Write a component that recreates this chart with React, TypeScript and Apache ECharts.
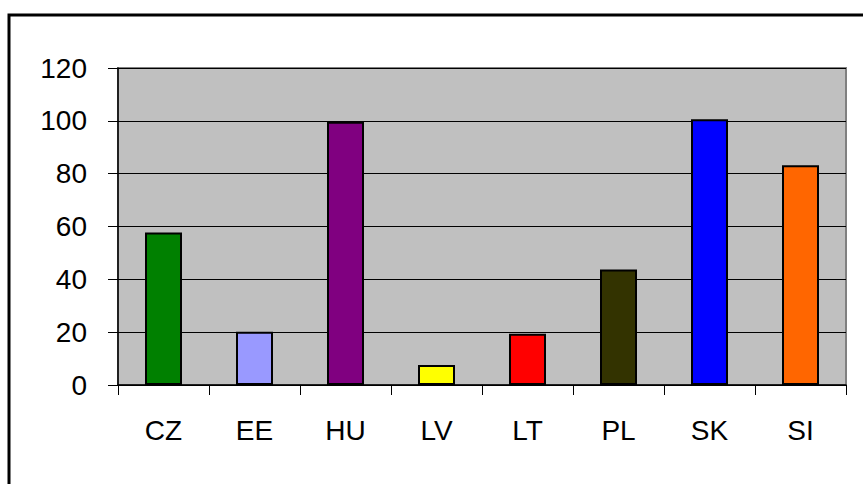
import React, { useEffect, useRef } from "react";
import * as echarts from "echarts";

const categories = ["CZ", "EE", "HU", "LV", "LT", "PL", "SK", "SI"];
const values = [57.7, 20.2, 99.7, 7.6, 19.4, 43.7, 100.6, 83.2];
const barColors = ["#008000", "#9999FF", "#800080", "#FFFF00", "#FF0000", "#333300", "#0000FF", "#FF6600"];
const yTicks = { min: 0, max: 120, interval: 20 };

export default function App() {
  const ref = useRef<HTMLDivElement>(null);
  useEffect(() => {
    if (!ref.current) return;
    const chart = echarts.init(ref.current, undefined, { renderer: "svg" });
    const font = "Liberation Sans, Arial, sans-serif";
    chart.setOption({
      animation: false,
      backgroundColor: "#ffffff",
      graphic: [
        {
          type: "rect",
          shape: { x: 9, y: 15, width: 900, height: 520 },
          style: { fill: "none", stroke: "#000000", lineWidth: 3 },
          silent: true,
        },
      ],
      grid: {
        left: 118,
        right: 17,
        top: 68,
        bottom: 99,
        show: true,
        backgroundColor: "#C0C0C0",
        borderColor: "#808080",
        borderWidth: 2,
      },
      xAxis: {
        type: "category",
        data: categories,
        boundaryGap: true,
        axisLine: { show: true, lineStyle: { color: "#000000", width: 1.5 } },
        axisTick: { show: true, length: 10, alignWithLabel: false, lineStyle: { color: "#000000", width: 1 } },
        axisLabel: { color: "#000000", fontSize: 28, fontFamily: font, margin: 31 },
      },
      yAxis: {
        type: "value",
        min: yTicks.min,
        max: yTicks.max,
        interval: yTicks.interval,
        axisLine: { show: true, lineStyle: { color: "#000000", width: 1.5 } },
        axisTick: { show: true, length: 10, lineStyle: { color: "#000000", width: 1 } },
        axisLabel: { color: "#000000", fontSize: 28, fontFamily: font, margin: 31 },
        splitLine: { show: true, lineStyle: { color: "#000000", width: 1 } },
      },
      series: [
        {
          type: "bar",
          data: values.map((v, i) => ({
            value: v,
            itemStyle: { color: barColors[i] },
          })),
          barWidth: 37,
          itemStyle: { borderColor: "#000000", borderWidth: 2 },
        },
      ],
    });
    return () => chart.dispose();
  }, []);
  return (
    <div
      ref={ref}
      style={{ position: "absolute", left: 0, top: 0, width: 863, height: 484 }}
    />
  );
}
